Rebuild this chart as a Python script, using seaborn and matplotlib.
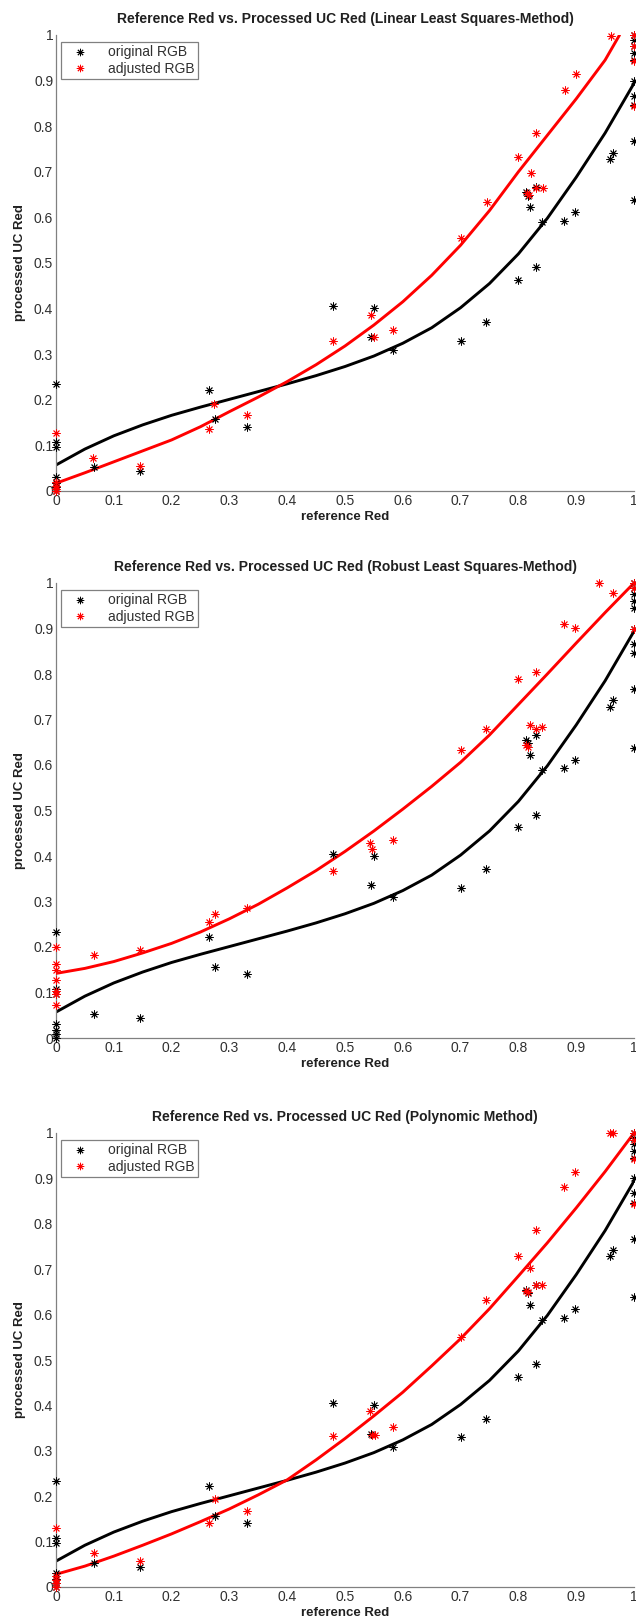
import numpy as np
import pandas as pd
import matplotlib
matplotlib.use("Agg")
import matplotlib.pyplot as plt
from matplotlib.lines import Line2D
import seaborn as sns

# ---------------- data ----------------
titles = [
    "Reference Red vs. Processed UC Red (Linear Least Squares-Method)",
    "Reference Red vs. Processed UC Red (Robust Least Squares-Method)",
    "Reference Red vs. Processed UC Red (Polynomic Method)",
]
xlabel = "reference Red"
ylabel = "processed UC Red"
legend_labels = ["original RGB", "adjusted RGB"]
tick_values = [0, 0.1, 0.2, 0.3, 0.4, 0.5, 0.6, 0.7, 0.8, 0.9, 1]
tick_labels = ["0", "0.1", "0.2", "0.3", "0.4", "0.5", "0.6", "0.7", "0.8", "0.9", "1"]

# original RGB samples (same in every panel)
orig_x = [0, 0, 0, 0, 0, 0, 0,
          0.065, 0.146, 0.265, 0.275, 0.331, 0.48, 0.545, 0.55, 0.583, 0.70, 0.744,
          0.799, 0.814, 0.816, 0.82, 0.83, 0.83, 0.841, 0.879, 0.898, 0.958, 0.964,
          1, 1, 1, 1, 1, 1, 1, 1, 1, 1]
orig_y = [0.234, 0.107, 0.096, 0.03, 0.018, 0.008, 0.0,
          0.052, 0.043, 0.222, 0.157, 0.141, 0.405, 0.337, 0.401, 0.309, 0.330, 0.371,
          0.463, 0.655, 0.648, 0.622, 0.666, 0.491, 0.589, 0.593, 0.612, 0.728, 0.742,
          1.0, 0.99, 0.975, 0.96, 0.945, 0.90, 0.867, 0.846, 0.767, 0.638]

# adjusted RGB samples, linear least squares
lin_x = [0, 0, 0, 0, 0,
         0.064, 0.146, 0.265, 0.274, 0.331, 0.48, 0.545, 0.55, 0.583, 0.70, 0.746,
         0.80, 0.815, 0.818, 0.822, 0.83, 0.83, 0.842, 0.88, 0.90, 0.96,
         1, 1, 1, 1]
lin_y = [0.127, 0.02, 0.012, 0.005, 0.0,
         0.073, 0.054, 0.136, 0.19, 0.166, 0.33, 0.385, 0.338, 0.353, 0.554, 0.634,
         0.733, 0.653, 0.65, 0.698, 0.786, 0.664, 0.664, 0.879, 0.914, 0.998,
         1.0, 0.975, 0.944, 0.844]

# adjusted RGB samples, robust least squares
rob_x = [0, 0, 0, 0, 0, 0, 0,
         0.065, 0.146, 0.265, 0.275, 0.331, 0.48, 0.543, 0.547, 0.583, 0.70, 0.744,
         0.799, 0.814, 0.816, 0.82, 0.83, 0.83, 0.841, 0.879, 0.898, 0.94, 0.963,
         1, 1, 1]
rob_y = [0.201, 0.162, 0.150, 0.127, 0.103, 0.097, 0.072,
         0.183, 0.193, 0.256, 0.272, 0.285, 0.368, 0.428, 0.415, 0.436, 0.634, 0.680,
         0.790, 0.645, 0.64, 0.688, 0.804, 0.680, 0.684, 0.910, 0.902, 1.0, 0.978,
         1.0, 0.99, 0.90]

# adjusted RGB samples, polynomial method
poly_x = [0, 0, 0, 0, 0,
          0.065, 0.146, 0.265, 0.275, 0.331, 0.48, 0.543, 0.547, 0.552, 0.583, 0.70,
          0.744, 0.799, 0.814, 0.817, 0.82, 0.83, 0.83, 0.841, 0.879, 0.898, 0.958, 0.964,
          1, 1, 1, 1]
poly_y = [0.131, 0.025, 0.015, 0.008, 0.0,
          0.075, 0.057, 0.140, 0.193, 0.167, 0.333, 0.388, 0.335, 0.335, 0.353, 0.551,
          0.632, 0.729, 0.652, 0.65, 0.702, 0.787, 0.665, 0.665, 0.880, 0.915, 0.999, 0.999,
          1.0, 0.985, 0.943, 0.843]

# fitted curves
curve_x = [0, 0.05, 0.1, 0.15, 0.2, 0.25, 0.3, 0.35, 0.4, 0.45, 0.5,
           0.55, 0.6, 0.65, 0.7, 0.75, 0.8, 0.85, 0.9, 0.95, 1.0]
orig_fit_y = [0.057, 0.092, 0.121, 0.145, 0.166, 0.184, 0.201, 0.218, 0.235, 0.253, 0.273,
              0.296, 0.324, 0.358, 0.402, 0.455, 0.520, 0.598, 0.688, 0.785, 0.894]
lin_fit_x = [0, 0.05, 0.1, 0.15, 0.2, 0.25, 0.3, 0.35, 0.4, 0.45, 0.5,
             0.55, 0.6, 0.65, 0.7, 0.75, 0.8, 0.85, 0.9, 0.95, 0.975]
lin_fit_y = [0.017, 0.040, 0.064, 0.088, 0.112, 0.141, 0.174, 0.206, 0.240, 0.277, 0.318,
             0.364, 0.415, 0.473, 0.539, 0.615, 0.700, 0.780, 0.860, 0.945, 1.0]
rob_fit_y = [0.142, 0.153, 0.168, 0.187, 0.208, 0.233, 0.262, 0.294, 0.330, 0.368, 0.410,
             0.455, 0.503, 0.553, 0.606, 0.666, 0.733, 0.800, 0.868, 0.935, 1.0]
poly_fit_y = [0.028, 0.046, 0.068, 0.092, 0.117, 0.144, 0.172, 0.203, 0.236, 0.280, 0.327,
              0.377, 0.429, 0.487, 0.547, 0.613, 0.685, 0.758, 0.835, 0.915, 1.0]

# ---------------- styling ----------------
sns.set_style("white")
plt.rcParams["font.family"] = ["Liberation Sans", "DejaVu Sans"]

GREY = "#808080"
TXT = "#303030"
STAR = (8, 2, 0)

fig = plt.figure(figsize=(6.36, 16.23), dpi=100)
W, H = 636.0, 1623.0
left = 56 / W
width = 578 / W
panels = [
    (491, 456, titles[0], lin_x, lin_y, lin_fit_x, lin_fit_y),
    (1038, 455, titles[1], rob_x, rob_y, curve_x, rob_fit_y),
    (1587, 454, titles[2], poly_x, poly_y, curve_x, poly_fit_y),
]

for (bottom_px, h_px, title, ax_x, ax_y, fx, fy) in panels:
    ax = fig.add_axes([left, 1 - bottom_px / H, width, h_px / H])

    sns.lineplot(x=curve_x, y=orig_fit_y, ax=ax, color="black", lw=2.1,
                 sort=False, estimator=None)
    sns.lineplot(x=fx, y=fy, ax=ax, color="red", lw=2.1, sort=False, estimator=None)

    sns.scatterplot(x=orig_x, y=orig_y, ax=ax, color="black", marker=STAR, s=28,
                    linewidth=0.65, clip_on=False, zorder=3)
    sns.scatterplot(x=ax_x, y=ax_y, ax=ax, color="red", marker=STAR, s=28,
                    linewidth=0.65, clip_on=False, zorder=3)

    ax.set_xlim(0, 1)
    ax.set_ylim(0, 1)
    ax.set_xticks(tick_values)
    ax.set_xticklabels(tick_labels)
    ax.set_yticks(tick_values)
    ax.set_yticklabels(tick_labels)
    ax.tick_params(direction="in", length=5, width=0.8, colors=GREY,
                   labelcolor=TXT, labelsize=10, pad=2)
    for side in ["top", "right"]:
        ax.spines[side].set_visible(False)
    for side in ["left", "bottom"]:
        ax.spines[side].set_color(GREY)
        ax.spines[side].set_linewidth(0.9)

    ax.set_title(title, fontsize=10, fontweight="bold", color="#202020", pad=9)
    ax.set_xlabel(xlabel, fontsize=9.5, fontweight="bold", color="#202020", labelpad=2)
    ax.set_ylabel(ylabel, fontsize=9.5, fontweight="bold", color="#202020", labelpad=6)

    handles = [
        Line2D([], [], color="black", marker=STAR, linestyle="none", markersize=5.3,
               markeredgewidth=0.65),
        Line2D([], [], color="red", marker=STAR, linestyle="none", markersize=5.3,
               markeredgewidth=0.65),
    ]
    leg = ax.legend(handles, legend_labels, loc="upper left",
                    bbox_to_anchor=(5 / 578, 1 - 7 / h_px), fancybox=False,
                    framealpha=1, edgecolor=GREY, fontsize=10, handlelength=2.2,
                    handletextpad=0.9, borderpad=0.25, labelspacing=0.15,
                    borderaxespad=0, labelcolor=TXT)
    leg.get_frame().set_linewidth(0.9)

fig.savefig("out.png", dpi=100)
